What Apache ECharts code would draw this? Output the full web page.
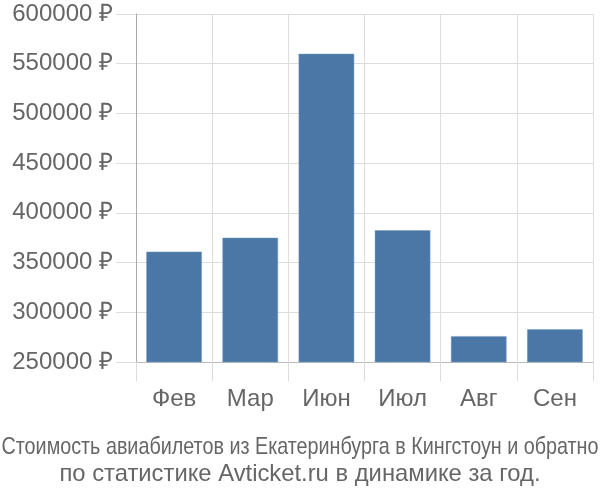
<!DOCTYPE html>
<html><head><meta charset="utf-8">
<script src="https://cdn.jsdelivr.net/npm/echarts@6/dist/echarts.min.js"></script>
<style>html,body{margin:0;padding:0;background:#fff}#c{width:600px;height:500px}</style>
</head><body><div id="c"></div>
<script>
const categories = ['Фев', 'Мар', 'Июн', 'Июл', 'Авг', 'Сен'];
const prices = [361000, 375000, 560000, 382500, 276000, 283000];
const yMin = 250000, yMax = 600000, yStep = 50000;
const titleLine1 = 'Стоимость авиабилетов из Екатеринбурга в Кингстоун и обратно';
const titleLine2 = 'по статистике Avticket.ru в динамике за год.';

const FONT = 'Liberation Sans, Arial';
const chart = echarts.init(document.getElementById('c'), null, {renderer: 'canvas'});
chart.setOption({
  animation: false,
  graphic: [
    {type: 'text', x: 300, y: 447, scaleX: 0.83,
     style: {text: titleLine1, fontFamily: FONT, fontSize: 23.8, fill: '#666', align: 'center', verticalAlign: 'middle'}},
    {type: 'text', x: 300, y: 474,
     style: {text: titleLine2, fontFamily: FONT, fontSize: 23.8, fill: '#666', align: 'center', verticalAlign: 'middle'}}
  ],
  grid: {left: 136, right: 7, top: 14, bottom: 138, containLabel: false},
  xAxis: {
    type: 'category', data: categories, boundaryGap: true,
    axisLine: {show: true, lineStyle: {color: '#bbb', width: 1}},
    axisTick: {show: true, interval: 0, length: 19, lineStyle: {color: '#ddd'}},
    splitLine: {show: true, interval: 0, lineStyle: {color: '#ddd'}},
    axisLabel: {margin: 25, fontSize: 24, color: '#666', fontFamily: FONT}
  },
  yAxis: {
    type: 'value', min: yMin, max: yMax, interval: yStep,
    axisLine: {show: true, lineStyle: {color: '#aaa', width: 1}},
    axisTick: {show: true, length: 20, lineStyle: {color: '#ddd'}},
    splitLine: {show: true, lineStyle: {color: '#ddd'}},
    axisLabel: {margin: 23, fontSize: 24, color: '#666', fontFamily: FONT,
      formatter: v => v + ' ₽'}
  },
  series: [{
    type: 'bar', data: prices, barCategoryGap: '27%',
    itemStyle: {color: '#4b77a6', borderColor: '#7f9fc4', borderWidth: 0.5}
  }]
});
</script></body></html>
